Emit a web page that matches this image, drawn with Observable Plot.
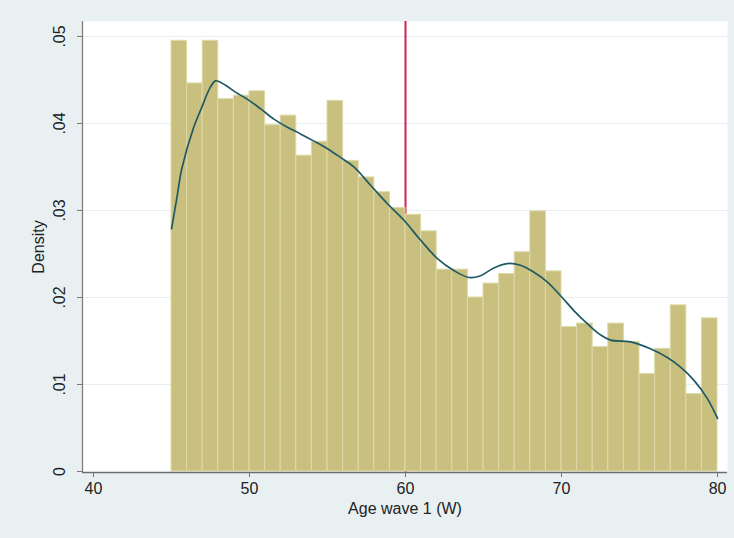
<!DOCTYPE html>
<html>
<head>
<meta charset="utf-8">
<script src="https://cdn.jsdelivr.net/npm/d3@7"></script>
<script src="https://cdn.jsdelivr.net/npm/@observablehq/plot@0.6"></script>
<style>
  html, body { margin: 0; padding: 0; background: #e8f0f2; }
  #chart svg { display: block; }
</style>
</head>
<body>
<div id="chart"></div>
<script>
// Histogram bins (lower edge, width 1 year) and their densities
const binStart = [45, 46, 47, 48, 49, 50, 51, 52, 53, 54, 55, 56, 57, 58, 59, 60, 61,
                  62, 63, 64, 65, 66, 67, 68, 69, 70, 71, 72, 73, 74, 75, 76, 77, 78, 79];
const binDensity = [0.0495, 0.0446, 0.0495, 0.0428, 0.0432, 0.0437, 0.0398, 0.0409, 0.0363,
                    0.0379, 0.0426, 0.0357, 0.0338, 0.0321, 0.0303, 0.0295, 0.0276, 0.0232,
                    0.0232, 0.0200, 0.0216, 0.0227, 0.0252, 0.0299, 0.0230, 0.0166, 0.0170,
                    0.0143, 0.0170, 0.0149, 0.0112, 0.0141, 0.0191, 0.0089, 0.0176];

// Kernel density estimate
const kdeAge = [45.0, 45.35, 45.66, 46.43, 46.86, 47.5, 47.82, 48.46, 49.1, 49.85, 50.7,
                51.56, 52.4, 53.27, 54.1, 55.0, 55.83, 56.69, 57.76, 58.83, 59.89, 60.96,
                62.03, 63.1, 64.06, 64.81, 65.66, 66.52, 67.37, 68.23, 69.08, 69.94, 70.79,
                71.65, 72.5, 73.14, 74.42, 75.7, 76.78, 77.63, 78.48, 79.34, 80.0];
const kdeDensity = [0.0279, 0.0315, 0.0348, 0.0396, 0.0415, 0.0442, 0.0449, 0.0444, 0.0436,
                    0.0428, 0.0417, 0.0405, 0.0396, 0.0388, 0.0380, 0.0371, 0.0361, 0.0350,
                    0.0329, 0.0308, 0.0289, 0.0266, 0.0245, 0.0231, 0.0223, 0.0225, 0.0234,
                    0.0239, 0.0237, 0.0229, 0.0218, 0.0202, 0.0185, 0.0170, 0.0157, 0.0151,
                    0.0149, 0.0141, 0.0131, 0.0120, 0.0105, 0.0084, 0.0061];

// Reference line and axis ticks
const cutoffAge = [60];
const xTicks = [40, 50, 60, 70, 80];
const yTicks = [0, 0.01, 0.02, 0.03, 0.04, 0.05];
const yTickLabels = ["0", ".01", ".02", ".03", ".04", ".05"];

const bins = binStart.map((a, i) => ({x1: a, x2: a + 1, y: binDensity[i]}));
const kde = kdeAge.map((a, i) => ({x: a, y: kdeDensity[i]}));
const yLabels = yTicks.map((v, i) => ({y: v, label: yTickLabels[i]}));

const xDomain = [39.295, 80.64];
const yDomain = [-0.000115, 0.05172];
const font = "'Liberation Sans', Arial, Helvetica, sans-serif";
const ink = "#222";

const chart = Plot.plot({
  width: 734,
  height: 538,
  marginLeft: 82,
  marginRight: 7,
  marginTop: 21,
  marginBottom: 66,
  style: {background: "#e8f0f2", fontFamily: font, color: ink},
  x: {domain: xDomain},
  y: {domain: yDomain},
  marks: [
    Plot.frame({fill: "white", stroke: "none"}),
    Plot.gridY(yTicks.slice(1), {stroke: "#e9eef1", strokeOpacity: 1, strokeWidth: 1}),
    Plot.ruleX(cutoffAge, {stroke: "#d4204d", strokeWidth: 2}),
    Plot.rectY(bins, {x1: "x1", x2: "x2", y: "y", fill: "#c9c07f", stroke: "#dedaa8", strokeWidth: 1}),
    Plot.line(kde, {x: "x", y: "y", stroke: "#1f5a64", strokeWidth: 1.7, curve: "catmull-rom"}),
    // axis lines
    Plot.ruleX([xDomain[0]], {stroke: "#7a7a7a", strokeWidth: 1.2}),
    Plot.ruleY([yDomain[0]], {stroke: "#6e6e6e", strokeWidth: 1.4}),
    Plot.axisY({ticks: yTicks, tickSize: 5, tickFormat: () => "", label: null, stroke: "#7a7a7a"}),
    Plot.text(yLabels, {y: "y", text: "label", frameAnchor: "left", dx: -23, rotate: -90,
                        textAnchor: "middle", fontSize: 16, fill: ink}),
    Plot.text(["Density"], {frameAnchor: "left", dx: -44, rotate: -90, textAnchor: "middle",
                            fontSize: 16, fill: ink}),
    Plot.axisX({ticks: xTicks, tickSize: 5, tickPadding: 5, fontSize: 16, label: null,
                stroke: "#7a7a7a", color: ink}),
    Plot.text(["Age wave 1 (W)"], {frameAnchor: "bottom", dy: 41, textAnchor: "middle",
                                   fontSize: 16, fill: ink})
  ]
});

document.getElementById("chart").append(chart);
</script>
</body>
</html>
